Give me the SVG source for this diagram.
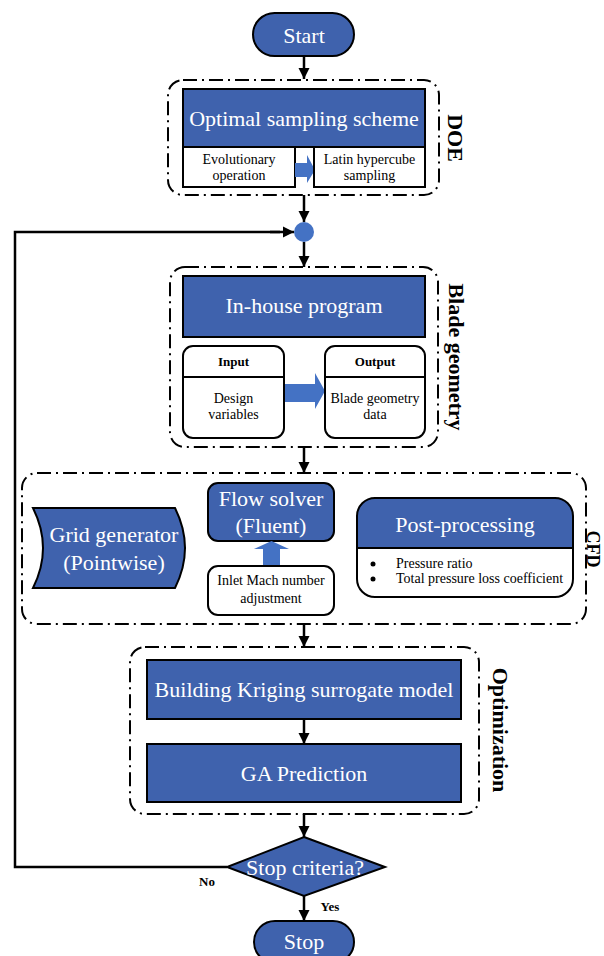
<svg xmlns="http://www.w3.org/2000/svg" width="604" height="956" viewBox="0 0 604 956">
<defs>
<marker id="ah" viewBox="0 0 10 10" refX="10" refY="5" markerWidth="4.6" markerHeight="4.6" orient="auto" markerUnits="strokeWidth">
<path d="M0,0 L10,5 L0,10 Z" fill="#000"/>
</marker>
<style>
.grp{fill:none;stroke:#000;stroke-width:2;stroke-dasharray:14 5 2 5}
.blue{fill:#3F62AD;stroke:#000;stroke-width:2}
.white{fill:#fff;stroke:#000;stroke-width:2}
.plain{fill:none;stroke:#000;stroke-width:2}
.barrow{fill:#4472C4;stroke:none}
.conn{fill:none;stroke:#000;stroke-width:2.5;marker-end:url(#ah)}
.loop{fill:none;stroke:#000;stroke-width:2.5}
.big{font-family:"Liberation Serif","Times New Roman",serif;font-size:22px;fill:#fff;text-anchor:middle}
.sm{font-family:"Liberation Serif","Times New Roman",serif;font-size:14px;fill:#000;text-anchor:middle}
.sml{font-family:"Liberation Serif","Times New Roman",serif;font-size:14px;fill:#000}
.hdr{font-family:"Liberation Serif","Times New Roman",serif;font-size:13px;font-weight:bold;fill:#000;text-anchor:middle}
.lbl{font-family:"Liberation Serif","Times New Roman",serif;font-size:22px;font-weight:bold;fill:#000;text-anchor:middle}
</style>
</defs>
<rect width="604" height="956" fill="#fff"/>

<g id="connectors">
<line class="conn" x1="304" y1="56" x2="304" y2="79"/>
<line class="conn" x1="304" y1="195" x2="304" y2="222"/>
<line class="conn" x1="304" y1="242" x2="304" y2="267"/>
<line class="conn" x1="304" y1="447" x2="304" y2="473"/>
<line class="conn" x1="304" y1="624" x2="304" y2="647"/>
<line class="conn" x1="304" y1="719" x2="304" y2="744"/>
<line class="conn" x1="304" y1="814" x2="304" y2="837"/>
<line class="conn" x1="304" y1="896" x2="304" y2="921"/>
<polyline class="loop" points="227,867 15,867 15,232 280,232"/>
<line class="conn" x1="270" y1="232" x2="294" y2="232"/>
<text class="hdr" x="207" y="886">No</text>
<text class="hdr" x="330" y="911">Yes</text>
</g>

<g id="start">
<rect class="blue" x="253" y="13" width="101" height="43" rx="21.5"/>
<text class="big" x="304" y="43">Start</text>
</g>

<g id="doe">
<rect class="grp" x="168" y="80" width="271" height="115" rx="15"/>
<text class="lbl" transform="translate(448,138) rotate(90)">DOE</text>
</g>
<g id="optimal-sampling">
<rect class="blue" x="183" y="89" width="242" height="58"/>
<text class="big" x="304" y="126">Optimal sampling scheme</text>
</g>
<g id="evolutionary">
<rect class="white" x="183" y="147" width="112" height="40"/>
<text class="sm" x="239" y="164">Evolutionary</text>
<text class="sm" x="239" y="180">operation</text>
</g>
<polygon class="barrow" points="295,163 307,163 307,155 315,170 307,183 307,177 295,177"/>
<g id="latin">
<rect class="white" x="314" y="147" width="111" height="40"/>
<text class="sm" x="369.5" y="164">Latin hypercube</text>
<text class="sm" x="369.5" y="180">sampling</text>
</g>

<g id="junction">
<circle cx="304" cy="232" r="10" fill="#4472C4"/>
</g>

<g id="blade-geometry">
<rect class="grp" x="170" y="267" width="268" height="180" rx="15"/>
<text class="lbl" transform="translate(449,357) rotate(90)">Blade geometry</text>
</g>
<g id="in-house">
<rect class="blue" x="183" y="276" width="242" height="61"/>
<text class="big" x="304" y="313">In-house program</text>
</g>
<g id="input">
<rect class="white" x="183" y="346" width="101" height="92" rx="10"/>
<line class="plain" x1="183" y1="377" x2="284" y2="377"/>
<text class="hdr" x="233.5" y="366">Input</text>
<text class="sm" x="233.5" y="403">Design</text>
<text class="sm" x="233.5" y="419">variables</text>
</g>
<polygon class="barrow" points="285,384 315,384 315,373 325,391 315,409 315,402 285,402"/>
<g id="output">
<rect class="white" x="325" y="346" width="100" height="92" rx="10"/>
<line class="plain" x1="325" y1="377" x2="425" y2="377"/>
<text class="hdr" x="375" y="366">Output</text>
<text class="sm" x="375" y="403">Blade geometry</text>
<text class="sm" x="375" y="419">data</text>
</g>

<g id="cfd">
<rect class="grp" x="22" y="473" width="564" height="151" rx="15"/>
<text class="lbl" style="font-size:18px" transform="translate(587,549) rotate(90)">CFD</text>
</g>
<g id="grid-generator">
<path class="blue" d="M33,508 L175,508 Q195,548 175,588 L33,588 Q53,548 33,508 Z"/>
<text class="big" x="114" y="542">Grid generator</text>
<text class="big" x="114" y="570">(Pointwise)</text>
</g>
<g id="flow-solver">
<rect class="blue" x="208" y="483" width="126" height="58" rx="10"/>
<text class="big" x="271" y="506">Flow solver</text>
<text class="big" x="271" y="533">(Fluent)</text>
</g>
<polygon class="barrow" points="263,566 263,549 254,549 271.5,541 289,549 280,549 280,566"/>
<g id="inlet-mach">
<rect class="white" x="208" y="566" width="126" height="49" rx="10"/>
<text class="sm" x="271" y="585">Inlet Mach number</text>
<text class="sm" x="271" y="603">adjustment</text>
</g>
<g id="post-processing">
<path d="M357,548 V516 A18,18 0 0 1 375,498 H555 A18,18 0 0 1 573,516 V548 Z" fill="#3F62AD"/>
<rect class="plain" x="357" y="498" width="216" height="99" rx="18"/>
<line class="plain" x1="357" y1="548" x2="573" y2="548"/>
<text class="big" x="465" y="532">Post-processing</text>
<circle cx="373" cy="564" r="2.5" fill="#000"/>
<circle cx="373" cy="579" r="2.5" fill="#000"/>
<text class="sml" x="396" y="568">Pressure ratio</text>
<text class="sml" x="396" y="583">Total pressure loss coefficient</text>
</g>

<g id="optimization">
<rect class="grp" x="130" y="647" width="349" height="167" rx="15"/>
<text class="lbl" transform="translate(493,730) rotate(90)">Optimization</text>
</g>
<g id="kriging">
<rect class="blue" x="147" y="660" width="314" height="59"/>
<text class="big" x="304" y="697">Building Kriging surrogate model</text>
</g>
<g id="ga-prediction">
<rect class="blue" x="147" y="744" width="314" height="58"/>
<text class="big" x="304" y="781">GA Prediction</text>
</g>

<g id="stop-criteria">
<polygon class="blue" points="304,837 385,867 304,896 227,867"/>
<text class="big" x="305" y="875">Stop criteria?</text>
</g>

<g id="stop">
<rect class="blue" x="254" y="921" width="100" height="42" rx="21"/>
<text class="big" x="304" y="949">Stop</text>
</g>
</svg>
